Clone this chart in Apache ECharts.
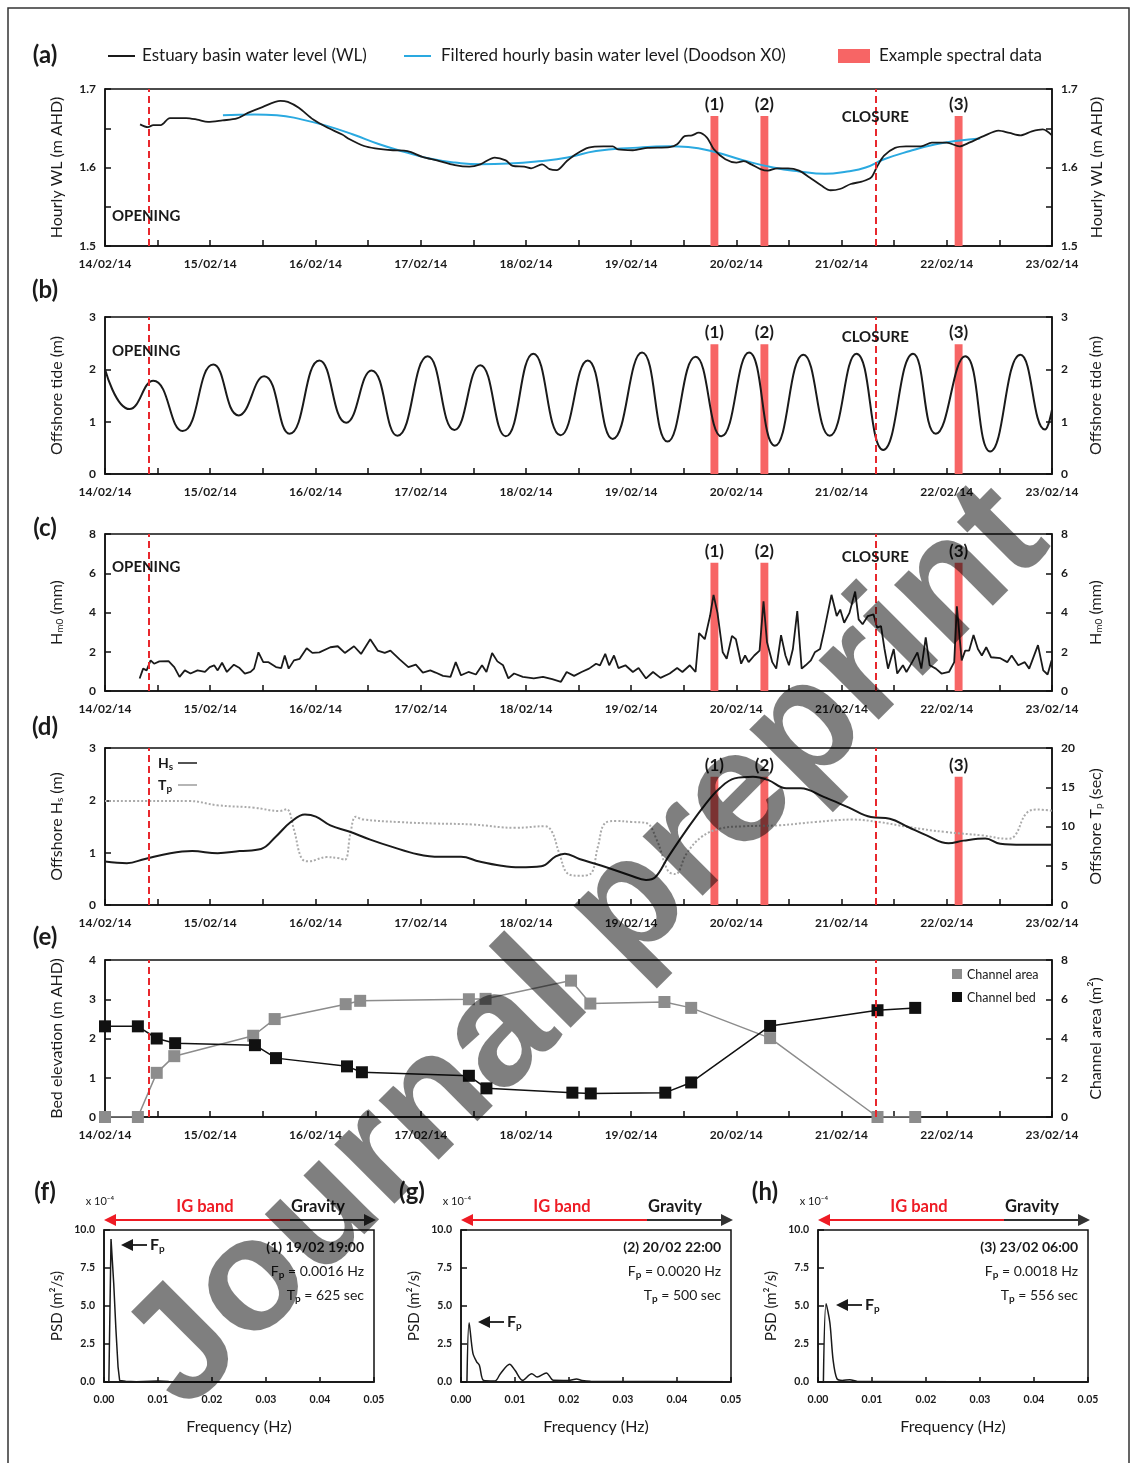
<!DOCTYPE html>
<html>
<head>
<meta charset="utf-8">
<script src="https://cdn.jsdelivr.net/npm/echarts@6/dist/echarts.min.js"></script>
<style>
html, body { margin: 0; padding: 0; background: #fff; }
#div-chart { width: 1137px; height: 1463px; }
</style>
</head>
<body>
<div id="div-chart"></div>
<script>
var myChart = echarts.init(document.getElementById('div-chart'));
var FONT = 'Lato';
var INK = '#1a1a1a';

// time = hours since 14/02/14 00:00
var dayLabels = ['14/02/14', '15/02/14', '16/02/14', '17/02/14', '18/02/14', '19/02/14', '20/02/14', '21/02/14', '22/02/14', '23/02/14'];
var openingHour = 10;
var closureHour = 175.7;
var spectralBars = [[138.1, 139.9, '(1)'], [149.5, 151.3, '(2)'], [193.8, 195.6, '(3)']];

// (a) basin water level (m AHD)
var wlBasin = [[8,1.655],[9.8,1.6515],[11,1.654],[12.7,1.654],[14.8,1.663],[18.5,1.663],[21,1.661],[23.5,1.658],[26.8,1.660],[30.1,1.6625],[32.6,1.6696],[35.9,1.677],[40,1.685],[41.7,1.6835],[44.2,1.676],[47.5,1.661],[50.8,1.6506],[54.1,1.642],[55.8,1.636],[59.1,1.6274],[61.6,1.6245],[65.7,1.622],[69,1.621],[72.4,1.6135],[75.7,1.609],[79.8,1.603],[83.1,1.601],[85.6,1.604],[88.9,1.6127],[91.4,1.609],[93,1.602],[95.6,1.601],[97.2,1.599],[99.7,1.604],[101.4,1.598],[103,1.5966],[105.3,1.608],[107.4,1.617],[110.3,1.6253],[113.7,1.627],[115.8,1.627],[117,1.623],[120.4,1.622],[123.8,1.625],[128.8,1.626],[130.5,1.6295],[132.2,1.640],[133.9,1.641],[135.4,1.6443],[137.3,1.638],[138.9,1.623],[141.5,1.6105],[144,1.6063],[145.7,1.608],[147.4,1.604],[149.5,1.598],[151.2,1.596],[153.3,1.599],[155.8,1.599],[158.3,1.596],[160.8,1.587],[163.4,1.577],[165.5,1.571],[167.6,1.5726],[170.1,1.579],[172.6,1.582],[174.7,1.587],[176,1.6],[177.7,1.615],[180.2,1.625],[182.7,1.627],[186.1,1.627],[188.6,1.6316],[192,1.6316],[194.9,1.627],[197.1,1.6316],[200.4,1.640],[203.8,1.647],[206.3,1.644],[208.8,1.641],[211.4,1.646],[213.9,1.6485],[216,1.641]];
var wlFiltered = [[26.9,1.6667],[34.2,1.6675],[39.2,1.6667],[45,1.661],[50.8,1.6527],[56.6,1.642],[62.4,1.630],[68.2,1.620],[74,1.6114],[79.8,1.6063],[85.6,1.604],[92.2,1.605],[98.9,1.608],[105.5,1.6127],[112,1.621],[120.4,1.625],[128.8,1.627],[133,1.626],[138.9,1.620],[145.7,1.609],[152.4,1.600],[158.3,1.595],[164.2,1.592],[169.3,1.595],[173.5,1.600],[177.7,1.6105],[183.6,1.621],[189.5,1.6295],[194.5,1.634],[199.6,1.637]];

// (b) offshore tide (m), turning points
var offshoreTide = [[0,2.0],[5.6,1.24],[11,1.78],[17.7,0.82],[24.7,2.09],[30.5,1.12],[36.3,1.87],[42.1,0.77],[48.9,2.17],[55,0.98],[60.8,1.98],[66.7,0.73],[73.6,2.25],[79.7,0.84],[85.6,2.08],[91.4,0.72],[97.7,2.30],[103.9,0.74],[110.1,2.17],[115.8,0.67],[122.5,2.32],[128.3,0.62],[134.7,2.24],[140.6,0.72],[146.9,2.32],[152.8,0.54],[159.3,2.28],[165.3,0.73],[171.4,2.30],[177.5,0.46],[184.3,2.30],[189.5,0.77],[196.2,2.25],[201.9,0.43],[208.8,2.28],[214.4,0.85],[216,1.23]];

// (c) Hm0 (mm)
var hm0 = [[7.9,0.64],[8.7,1.14],[9.5,1.05],[10.4,1.56],[11.2,1.39],[12.4,1.51],[14.5,1.52],[15.8,1.22],[17,0.72],[18.2,1.05],[19.5,0.89],[21.1,1.05],[22.8,0.97],[23.9,1.22],[24.9,1.31],[25.7,1.05],[26.7,1.44],[27.8,0.97],[29.4,1.34],[30.7,1.17],[31.9,0.89],[33.2,0.97],[34,1.14],[35,1.97],[36.1,1.47],[37.3,1.47],[39,1.22],[40.2,1.17],[41,1.81],[41.9,1.14],[43.1,1.56],[44.4,1.64],[46,2.18],[47.3,1.94],[48.9,1.97],[51.4,2.23],[53.1,2.28],[54.7,1.94],[56.8,2.28],[58.4,1.89],[60.5,2.64],[62.2,2.06],[63.8,1.94],[65.1,2.06],[67.2,1.61],[69.2,1.22],[70.9,1.34],[72.5,0.94],[74.2,1.05],[75.4,0.94],[77.1,0.77],[78.8,0.72],[80,1.47],[81.2,0.8],[82.9,0.97],[84.6,0.84],[86,1.31],[87,0.97],[88.3,1.94],[89.5,1.51],[90.8,1.31],[92,0.64],[93.3,0.89],[95.3,0.72],[97.8,0.64],[99.9,0.72],[102,0.6],[104,0.47],[105.3,0.97],[107,0.77],[108.7,0.97],[110.4,1.14],[112,1.39],[112.9,1.31],[114.1,1.89],[115,1.31],[116.1,1.81],[117.1,1.17],[118.7,1.31],[120.4,0.97],[121.7,1.17],[123.4,0.64],[125,0.97],[126.7,0.67],[128.8,0.89],[130.5,1.17],[131.7,0.97],[133.4,1.31],[134.7,0.97],[135.5,2.95],[136.8,2.64],[138,3.82],[138.8,4.9],[139.7,3.98],[140.9,1.97],[141.8,1.64],[143,2.81],[143.9,2.64],[145.1,1.39],[146,1.81],[146.8,1.47],[148.1,1.81],[149.3,2.06],[150.2,4.57],[151,2.48],[152.2,1.47],[153.1,1.14],[154.2,2.85],[155.2,1.81],[156,1.31],[156.9,2.14],[157.9,4.07],[158.9,1.14],[159.8,1.31],[161,1.56],[161.9,1.97],[163.1,2.14],[164.1,3.15],[165.7,4.9],[166.9,3.82],[167.7,4.15],[168.6,3.48],[169.8,3.98],[171.1,5.07],[171.9,3.65],[172.8,3.4],[174,3.82],[175.3,3.9],[176.1,3.23],[177,3.31],[177.8,2.14],[178.6,1.14],[179.9,2.14],[180.7,0.89],[182,1.31],[182.8,0.97],[184.1,1.47],[185.3,1.97],[186.2,1.14],[187.2,2.73],[188.1,1.31],[189.5,1.14],[190.8,0.89],[192.5,0.97],[193.7,1.47],[194.3,4.32],[195.4,1.56],[196.2,2.06],[197.1,2.06],[198.1,2.85],[199.1,2.14],[200,1.81],[201,2.23],[202.1,1.72],[204.2,1.67],[205.8,1.47],[206.8,1.81],[208.3,1.31],[209.8,1.47],[210.8,1.14],[212.8,2.34],[214,1.05],[215,0.84],[215.9,1.56]];

// (d) offshore waves
var offshoreHs = [[0,0.83],[5,0.8],[9.1,0.88],[14.9,0.99],[19.9,1.03],[25.7,0.99],[30.7,1.03],[35.6,1.07],[39,1.31],[42.3,1.58],[45.6,1.73],[48.1,1.69],[51.4,1.52],[55.5,1.41],[60.5,1.25],[65.5,1.11],[71.3,0.97],[76.3,0.92],[81.2,0.92],[85.4,0.83],[90.4,0.75],[94.5,0.72],[99.5,0.74],[102.8,0.93],[104.9,0.98],[108.2,0.88],[113.3,0.75],[120,0.56],[123.4,0.48],[125.5,0.53],[128.4,0.91],[132.6,1.43],[136.8,1.91],[140.2,2.23],[143.6,2.42],[147.8,2.45],[151.2,2.39],[155.4,2.23],[158.7,2.23],[163.8,2.07],[169.7,1.86],[174.7,1.68],[179,1.65],[183.2,1.49],[187.4,1.33],[192.4,1.18],[195.8,1.23],[200.8,1.27],[204.2,1.17],[209.3,1.15],[216,1.15]];
var offshoreTp = [[0,13.25],[9.1,13.25],[19.1,13.25],[25.7,12.7],[34,12.4],[39.8,11.97],[41.4,12.2],[43.1,9.6],[44.8,5.98],[46.4,5.56],[50.6,6.1],[53.1,5.98],[54.7,5.77],[56,9.2],[57.2,11.24],[58.9,10.9],[67.2,10.56],[75.4,10.38],[83.7,10.26],[93.7,9.83],[100.3,10.04],[101.9,9.4],[103.6,6.6],[105.7,3.94],[108.2,3.73],[110.7,3.94],[112.4,7.37],[114.1,10.45],[116.6,10.7],[120,10.58],[123.4,10.45],[125.9,8.22],[128.4,4.37],[130.1,3.94],[132.6,6.5],[136,8.65],[140.2,9.72],[145.3,10.02],[153.7,10.15],[162.1,10.58],[170.5,10.88],[176.4,10.58],[183.2,9.94],[191.6,9.3],[200,8.87],[205.9,8.44],[207.6,8.87],[210.1,11.65],[212.6,12.16],[216,12]];

// (e) channel surveys
var channelBed = [[0,2.31],[7.5,2.31],[11.8,2.0],[16,1.88],[34.2,1.83],[39,1.5],[55.2,1.29],[58.6,1.14],[83,1.05],[87,0.73],[106.6,0.62],[110.8,0.6],[127.8,0.62],[133.7,0.88],[151.7,2.32],[176.2,2.72],[184.8,2.78]];
var channelArea = [[0,0],[7.5,0],[11.8,2.25],[15.8,3.1],[33.8,4.14],[38.7,4.99],[54.9,5.75],[58.2,5.92],[83,6.0],[86.8,6.02],[106.3,6.95],[110.7,5.78],[127.6,5.86],[133.7,5.56],[151.7,4.02],[176.2,0],[184.8,0]];

// (f)(g)(h) spectra, PSD x 1e-4
var psd1 = [[0.0009,0],[0.0013,9.4],[0.0018,6.5],[0.0022,3.5],[0.0026,1.0],[0.0029,0.1],[0.004,0.05],[0.006,0.02],[0.01,0.06],[0.012,0.03],[0.02,0.02],[0.03,0.01],[0.05,0.01]];
var psd2 = [[0.0011,0],[0.0015,3.9],[0.0022,1.9],[0.0029,1.33],[0.0034,1.1],[0.0042,0.1],[0.0063,0.07],[0.0073,0.55],[0.009,1.17],[0.01,0.77],[0.0114,0.11],[0.0131,0.55],[0.0141,0.33],[0.0158,0.6],[0.0171,0.11],[0.0199,0.1],[0.0214,0.2],[0.0224,0.1],[0.024,0.05],[0.05,0.01]];
var psd3 = [[0.001,0],[0.0015,5.15],[0.0022,3.9],[0.0028,1.44],[0.0035,0.22],[0.0045,0.1],[0.0059,0.15],[0.0073,0.04],[0.05,0.01]];
var spectraTitles = ['(1) 19/02 19:00', '(2) 20/02 22:00', '(3) 23/02 06:00'];
var spectraFp = ['0.0016', '0.0020', '0.0018'];
var spectraTp = ['625', '500', '556'];

// layout
var tsLeft = 105, tsWidth = 947;
var tsTops = [89, 317, 534, 748, 960];
var spLefts = [104, 461, 818];
var spTop = 1230, spWidth = 270, spHeight = 152;
function X(h) { return tsLeft + h / 216 * tsWidth; }

var lineSty = {color: '#111', width: 1.5};
var nameRich = {s: {fontSize: 10, fontFamily: FONT, color: INK, verticalAlign: 'bottom', padding: [6, 0, 0, 0]}};

var grids = [];
tsTops.forEach(function (t) {
    grids.push({left: tsLeft, top: t, width: tsWidth, height: 157, show: true, borderColor: '#111', borderWidth: 1.5});
});
spLefts.forEach(function (l) {
    grids.push({left: l, top: spTop, width: spWidth, height: spHeight, show: true, borderColor: '#111', borderWidth: 1.5});
});

function timeAxis(gi) {
    return {
        type: 'value', gridIndex: gi, min: 0, max: 216, interval: 24,
        axisLine: {onZero: false, lineStyle: lineSty},
        axisTick: {inside: true, length: 6, lineStyle: lineSty},
        minorTick: {show: true, splitNumber: 2, length: 6, lineStyle: lineSty},
        splitLine: {show: false},
        axisLabel: {margin: 12, color: INK, fontFamily: FONT, fontWeight: 'bold', fontSize: 12,
            formatter: function (v) { return dayLabels[Math.round(v / 24)]; }}
    };
}

function freqAxis(gi) {
    return {
        type: 'value', gridIndex: gi, min: 0, max: 0.05, interval: 0.01,
        name: 'Frequency (Hz)', nameLocation: 'middle', nameGap: 37,
        nameTextStyle: {color: INK, fontFamily: FONT, fontSize: 16},
        axisLine: {onZero: false, lineStyle: lineSty},
        axisTick: {inside: true, length: 5, lineStyle: lineSty},
        splitLine: {show: false},
        axisLabel: {margin: 12, color: INK, fontFamily: FONT, fontWeight: 'bold', fontSize: 10.5,
            formatter: function (v) { return v.toFixed(2); }}
    };
}

function valAxis(gi, side, min, max, step, digits, name, gap, minor, fs, nfs) {
    return {
        type: 'value', gridIndex: gi, position: side, min: min, max: max, interval: step,
        name: name, nameLocation: 'middle', nameRotate: 90, nameGap: gap,
        nameTextStyle: {color: INK, fontFamily: FONT, fontSize: nfs || 16, rich: nameRich},
        axisLine: {show: true, onZero: false, lineStyle: lineSty},
        axisTick: {show: true, inside: true, length: 6, lineStyle: lineSty},
        minorTick: {show: !!minor, splitNumber: 2, length: 6, lineStyle: lineSty},
        splitLine: {show: false},
        axisLabel: {margin: 9, color: INK, fontFamily: FONT, fontWeight: 'bold', fontSize: fs || 12,
            formatter: function (v) { return v.toFixed(digits); }}
    };
}

var xAxes = [0, 1, 2, 3, 4].map(timeAxis).concat([5, 6, 7].map(freqAxis));
var yAxes = [
    valAxis(0, 'left', 1.5, 1.7, 0.1, 1, 'Hourly WL (m AHD)', 40, true),
    valAxis(0, 'right', 1.5, 1.7, 0.1, 1, 'Hourly WL (m AHD)', 36, true),
    valAxis(1, 'left', 0, 3, 1, 0, 'Offshore tide (m)', 40),
    valAxis(1, 'right', 0, 3, 1, 0, 'Offshore tide (m)', 36),
    valAxis(2, 'left', 0, 8, 2, 0, 'H{s|m0} (mm)', 40),
    valAxis(2, 'right', 0, 8, 2, 0, 'H{s|m0} (mm)', 36),
    valAxis(3, 'left', 0, 3, 1, 0, 'Offshore H{s|s} (m)', 40),
    valAxis(3, 'right', 0, 20, 5, 0, 'Offshore T{s|p} (sec)', 36),
    valAxis(4, 'left', 0, 4, 1, 0, 'Bed elevation (m AHD)', 40),
    valAxis(4, 'right', 0, 8, 2, 0, 'Channel area (m\u00b2)', 36),
    valAxis(5, 'left', 0, 10, 2.5, 1, 'PSD (m\u00b2/s)', 39, false, 10.5, 15),
    valAxis(6, 'left', 0, 10, 2.5, 1, 'PSD (m\u00b2/s)', 39, false, 10.5, 15),
    valAxis(7, 'left', 0, 10, 2.5, 1, 'PSD (m\u00b2/s)', 39, false, 10.5, 15)
];

function barsArea(bottom, top) {
    return {
        silent: true,
        itemStyle: {color: '#f76565', opacity: 1},
        label: {show: true, position: 'top', distance: 3, color: INK, fontFamily: FONT, fontWeight: 'bold', fontSize: 17,
            formatter: function (p) { return p.name; }},
        data: spectralBars.map(function (b) {
            return [{name: b[2], xAxis: b[0], yAxis: bottom}, {xAxis: b[1], yAxis: top}];
        })
    };
}

function eventLines() {
    return {
        silent: true, symbol: ['none', 'none'], label: {show: false},
        lineStyle: {color: '#e8282d', type: [7, 4], width: 2},
        data: [{xAxis: openingHour}, {xAxis: closureHour}]
    };
}

function plain(xi, yi, data, color, width, smooth, extra) {
    var s = {type: 'line', xAxisIndex: xi, yAxisIndex: yi, data: data, showSymbol: false, smooth: smooth,
        lineStyle: {color: color, width: width}, z: 3};
    for (var k in extra) s[k] = extra[k];
    return s;
}

var series = [
    plain(0, 0, wlFiltered, '#2aa9e0', 2, true, {z: 2}),
    plain(0, 0, wlBasin, INK, 1.8, 0.3, {markArea: barsArea(1.5, 1.6655), markLine: eventLines()}),
    plain(1, 2, offshoreTide, INK, 2, 0.5, {markArea: barsArea(0, 2.48), markLine: eventLines()}),
    plain(2, 4, hm0, INK, 1.8, false, {markArea: barsArea(0, 6.54), markLine: eventLines()}),
    plain(3, 7, offshoreTp, '#aaa', 2, 0.4, {lineStyle: {color: '#aaa', width: 2, type: [2, 2]}}),
    plain(3, 6, offshoreHs, INK, 2, 0.4, {markArea: barsArea(0, 2.45), markLine: eventLines()}),
    {type: 'line', xAxisIndex: 4, yAxisIndex: 9, data: channelArea, symbol: 'rect', symbolSize: 12,
        lineStyle: {color: '#8c8c8c', width: 1.5}, itemStyle: {color: '#8c8c8c'}, z: 3},
    {type: 'line', xAxisIndex: 4, yAxisIndex: 8, data: channelBed, symbol: 'rect', symbolSize: 12,
        lineStyle: {color: '#111', width: 1.5}, itemStyle: {color: '#111'}, z: 4, markLine: eventLines()},
    plain(5, 10, psd1, INK, 1.5, false, {}),
    plain(6, 11, psd2, INK, 1.5, 0.3, {}),
    plain(7, 12, psd3, INK, 1.5, 0.3, {})
];

// ---- annotations
function txt(x, y, text, opt) {
    opt = opt || {};
    return {type: 'text', x: x, y: y, z: 10, style: {
        text: text, fill: opt.fill || INK, font: (opt.weight || 'normal') + ' ' + (opt.size || 13) + 'px ' + FONT,
        textAlign: opt.align || 'left', textVerticalAlign: 'middle', rich: opt.rich}};
}
function seg(x1, y1, x2, y2, color, w) {
    return {type: 'line', z: 10, shape: {x1: x1, y1: y1, x2: x2, y2: y2}, style: {stroke: color, lineWidth: w || 2}};
}
function head(x, y, dir, color) {
    return {type: 'polygon', z: 10, shape: {points: [[x, y], [x - dir * 12, y - 6], [x - dir * 12, y + 6]]}, style: {fill: color}};
}
var subRich = {s: {fontSize: 10, fontFamily: FONT, fontWeight: 'bold', fill: INK, verticalAlign: 'bottom', padding: [7, 0, 0, 0]},
               n: {fontSize: 14, fontFamily: FONT, fill: INK}};

var graphics = [
    {type: 'rect', z: 1, shape: {x: 8, y: 8, width: 1121, height: 1470}, style: {fill: 'none', stroke: '#333', lineWidth: 1.5}},
    // legend (a)
    seg(108, 56, 135, 56, INK, 2), txt(142, 56, 'Estuary basin water level (WL)', {size: 17}),
    seg(404, 56, 431, 56, '#2aa9e0', 2), txt(441, 56, 'Filtered hourly basin water level (Doodson X0)', {size: 17}),
    {type: 'rect', z: 10, shape: {x: 838, y: 49, width: 32, height: 14}, style: {fill: '#f76565'}},
    txt(879, 56, 'Example spectral data', {size: 17}),
    // legend (d)
    txt(158, 763, 'H{s|s}', {size: 14, weight: 'bold', rich: subRich}), seg(178, 763, 197, 763, INK, 1.5),
    txt(158, 785, 'T{s|p}', {size: 14, weight: 'bold', rich: subRich}), seg(178, 785, 197, 785, '#9c9c9c', 1.5),
    // legend (e)
    {type: 'rect', z: 10, shape: {x: 952, y: 969, width: 10, height: 10}, style: {fill: '#8c8c8c'}},
    txt(967, 975, 'Channel area', {size: 12.5}),
    {type: 'rect', z: 10, shape: {x: 952, y: 992, width: 10, height: 10}, style: {fill: '#111'}},
    txt(967, 998, 'Channel bed', {size: 12.5})
];

// panel letters
[['(a)', 45, 55], ['(b)', 45, 290], ['(c)', 45, 528], ['(d)', 45, 727], ['(e)', 45, 937],
 ['(f)', 45, 1192], ['(g)', 412, 1192], ['(h)', 765, 1192]].forEach(function (p) {
    graphics.push(txt(p[1], p[2], p[0], {size: 24, weight: 'bold', align: 'center'}));
});

// opening / closure labels
[[117, 216], [337, 351], [557, 567]].forEach(function (yy) {
    graphics.push(txt(X(closureHour), yy[0], 'CLOSURE', {size: 15, weight: 'bold', align: 'center'}));
    graphics.push(txt(112, yy[1], 'OPENING', {size: 15, weight: 'bold'}));
});

// spectra headers and notes
var fpArrows = [[111, 1245], [468, 1322], [826, 1305]];
spLefts.forEach(function (L, i) {
    var split = L + 186, right = L + 272, y = 1220;
    graphics.push(seg(L + 8, y, split, y, '#ee1c25', 2), head(L, y, -1, '#ee1c25'));
    graphics.push(seg(split, y, right - 8, y, '#333', 2), head(right, y, 1, '#333'));
    graphics.push(txt(L + 101, 1207, 'IG band', {size: 16.5, weight: 'bold', fill: '#ee1c25', align: 'center'}));
    graphics.push(txt(L + 214, 1207, 'Gravity', {size: 16.5, weight: 'bold', align: 'center'}));
    graphics.push(txt(L - 4, 1201, 'x 10\u207b\u2074', {size: 11, align: 'center'}));
    graphics.push(txt(L + 260, 1247, spectraTitles[i], {size: 14, weight: 'bold', align: 'right'}));
    graphics.push(txt(L + 260, 1271, '{n|F}{s|p}{n| = ' + spectraFp[i] + ' Hz}', {size: 14, align: 'right', rich: subRich}));
    graphics.push(txt(L + 260, 1295, '{n|T}{s|p}{n| = ' + spectraTp[i] + ' sec}', {size: 14, align: 'right', rich: subRich}));
    var a = fpArrows[i];
    graphics.push(seg(a[0] + 14, a[1], a[0] + 36, a[1], INK, 1.8), head(a[0] + 10, a[1], -1, INK));
    graphics.push(txt(a[0] + 39, a[1], '{n|F}{s|p}', {size: 14, weight: 'bold', rich: {
        n: {fontSize: 16, fontWeight: 'bold', fontFamily: FONT, fill: INK},
        s: {fontSize: 10, fontWeight: 'bold', fontFamily: FONT, fill: INK, verticalAlign: 'bottom', padding: [8, 0, 0, 0]}}}));
});

// watermark
graphics.push({type: 'text', x: 588, y: 948, rotation: 45 * Math.PI / 180, z: 100, silent: true,
    style: {text: 'Journal preprint', font: 'bold 160px "Liberation Sans"', fill: 'rgba(0,0,0,0.5)',
        textAlign: 'center', textVerticalAlign: 'middle'}});

option = {
    animation: false,
    backgroundColor: '#fff',
    grid: grids,
    xAxis: xAxes,
    yAxis: yAxes,
    series: series,
    graphic: graphics
};

myChart.setOption(option);
</script>
</body>
</html>
